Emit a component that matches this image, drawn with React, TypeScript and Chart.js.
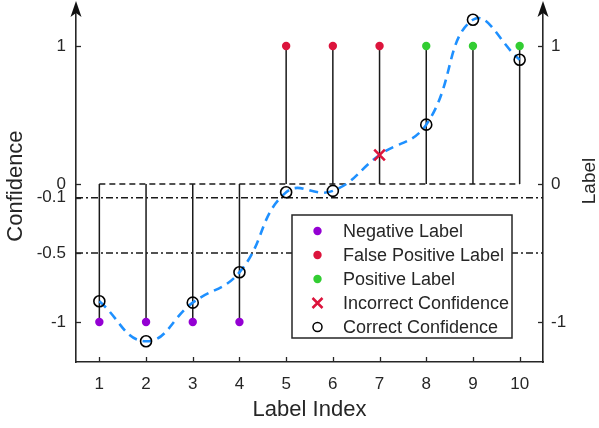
import React, { useEffect, useRef } from "react";
import { Chart, registerables } from "chart.js";

Chart.register(...registerables);

// ---- data ----
const labelIndex = [1, 2, 3, 4, 5, 6, 7, 8, 9, 10];
const trueLabels = [-1, -1, -1, -1, 1, 1, 1, 1, 1, 1];
const labelKinds = ["neg", "neg", "neg", "neg", "fp", "fp", "fp", "pos", "pos", "pos"];
const confidence = [-0.85, -1.14, -0.86, -0.64, -0.06, -0.05, 0.21, 0.43, 1.19, 0.9];
const confidenceCorrect = [true, true, true, true, true, true, false, true, true, true];
const leftTicks = [1, 0, -0.1, -0.5, -1];
const rightTicks = [1, 0, -1];
const thresholds = [-0.1, -0.5];
const xLimits = [0.5, 10.5];
const yLimits = [-1.29, 1.26];
const rightTitle = "Label";
const legendNames = [
  "Negative Label",
  "False Positive Label",
  "Positive Label",
  "Incorrect Confidence",
  "Correct Confidence",
];

const INK = "#262626";
const PURPLE = "#9400d3";
const RED = "#dc143c";
const GREEN = "#32cd32";
const BLUE = "#1e90ff";
const FONT = "'Liberation Sans', Arial, sans-serif";

const kindColor: Record<string, string> = { neg: PURPLE, fp: RED, pos: GREEN };

const noPad = (s: any) => {
  s.paddingTop = 0;
  s.paddingBottom = 0;
  s.paddingLeft = 0;
  s.paddingRight = 0;
};

const innerTicks = {
  id: "innerTicks",
  afterDraw(chart: any) {
    const ctx = chart.ctx;
    const a = chart.chartArea;
    ctx.save();
    ctx.strokeStyle = INK;
    ctx.lineWidth = 1.3;
    const len = 5;
    const xs = chart.scales.x;
    xs.ticks.forEach((t: any) => {
      const px = Math.round(xs.getPixelForValue(t.value)) + 0.5;
      ctx.beginPath();
      ctx.moveTo(px, a.bottom);
      ctx.lineTo(px, a.bottom - len);
      ctx.stroke();
    });
    const yl = chart.scales.y;
    yl.ticks.forEach((t: any) => {
      const py = Math.round(yl.getPixelForValue(t.value)) + 0.5;
      ctx.beginPath();
      ctx.moveTo(a.left, py);
      ctx.lineTo(a.left + len, py);
      ctx.stroke();
    });
    const yr = chart.scales.y2;
    yr.ticks.forEach((t: any) => {
      const py = Math.round(yr.getPixelForValue(t.value)) + 0.5;
      ctx.beginPath();
      ctx.moveTo(a.right, py);
      ctx.lineTo(a.right - len, py);
      ctx.stroke();
    });
    // vertical axis lines extended up to the arrows
    ctx.strokeStyle = INK;
    ctx.lineWidth = 1.6;
    [a.left, a.right].forEach((x: number) => {
      ctx.beginPath();
      ctx.moveTo(x, a.top + 1);
      ctx.lineTo(x, 8);
      ctx.stroke();
    });
    // arrows on top of both vertical axes
    [a.left, a.right].forEach((x: number) => {
      ctx.fillStyle = "#111";
      ctx.beginPath();
      ctx.moveTo(x, 1);
      ctx.lineTo(x + 5.5, 17);
      ctx.lineTo(x, 13);
      ctx.lineTo(x - 5.5, 17);
      ctx.closePath();
      ctx.fill();
    });
    // right axis title, reading bottom-to-top
    ctx.save();
    ctx.translate(590, 181);
    ctx.rotate(-Math.PI / 2);
    ctx.font = "19px " + FONT;
    ctx.fillStyle = INK;
    ctx.textAlign = "center";
    ctx.textBaseline = "middle";
    ctx.fillText(rightTitle, 0, 0);
    ctx.restore();
    ctx.restore();
  },
};

const boxLegend = {
  id: "boxLegend",
  afterDraw(chart: any) {
    const ctx = chart.ctx;
    ctx.save();
    const bx = 292, by = 215, bw = 220, bh = 123;
    ctx.fillStyle = "#ffffff";
    ctx.fillRect(bx, by, bw, bh);
    ctx.strokeStyle = INK;
    ctx.lineWidth = 1.5;
    ctx.strokeRect(bx, by, bw, bh);
    const mx = 317.5;
    const tx = 343;
    ctx.font = "18px " + FONT;
    ctx.textBaseline = "middle";
    ctx.textAlign = "left";
    legendNames.forEach((name, i) => {
      const y = 231 + i * 24;
      if (i < 3) {
        ctx.fillStyle = [PURPLE, RED, GREEN][i];
        ctx.beginPath();
        ctx.arc(mx, y, 4.2, 0, Math.PI * 2);
        ctx.fill();
      } else if (i === 3) {
        ctx.strokeStyle = RED;
        ctx.lineWidth = 2.5;
        ctx.beginPath();
        ctx.moveTo(mx - 5, y - 5);
        ctx.lineTo(mx + 5, y + 5);
        ctx.moveTo(mx + 5, y - 5);
        ctx.lineTo(mx - 5, y + 5);
        ctx.stroke();
      } else {
        ctx.strokeStyle = "#000";
        ctx.lineWidth = 1.5;
        ctx.beginPath();
        ctx.arc(mx, y, 4.5, 0, Math.PI * 2);
        ctx.stroke();
      }
      ctx.fillStyle = INK;
      ctx.fillText(name, tx, y + 1);
    });
    ctx.restore();
  },
};

export default function App() {
  const canvasRef = useRef<HTMLCanvasElement | null>(null);

  useEffect(() => {
    document.body.style.margin = "0";
    const canvas = canvasRef.current;
    if (!canvas) return;

    const stemData: any[] = [];
    labelIndex.forEach((x, i) => {
      stemData.push({ x, y: 0 });
      stemData.push({ x, y: trueLabels[i] });
      stemData.push({ x, y: null });
    });

    const kinds = ["neg", "fp", "pos"];
    const dotSets = kinds.map((k) => ({
      label: k,
      data: labelIndex
        .map((x, i) => ({ x, y: trueLabels[i], k: labelKinds[i] }))
        .filter((p) => p.k === k)
        .map((p) => ({ x: p.x, y: p.y })),
      pointRadius: 4.2,
      pointBackgroundColor: kindColor[k],
      pointBorderWidth: 0,
      showLine: false,
      order: 0,
      clip: false,
    }));

    const chart = new Chart(canvas, {
      type: "scatter",
      data: {
        datasets: [
          ...dotSets,
          {
            label: "incorrect",
            data: labelIndex
              .map((x, i) => ({ x, y: confidence[i], ok: confidenceCorrect[i] }))
              .filter((p) => !p.ok)
              .map((p) => ({ x: p.x, y: p.y })),
            pointStyle: "crossRot",
            pointRadius: 7.5,
            pointBorderColor: RED,
            pointBorderWidth: 2.6,
            showLine: false,
            order: 1,
          },
          {
            label: "correct",
            data: labelIndex
              .map((x, i) => ({ x, y: confidence[i], ok: confidenceCorrect[i] }))
              .filter((p) => p.ok)
              .map((p) => ({ x: p.x, y: p.y })),
            pointStyle: "circle",
            pointRadius: 5.5,
            pointBorderColor: "#000",
            pointBackgroundColor: "rgba(0,0,0,0)",
            pointBorderWidth: 1.6,
            showLine: false,
            order: 2,
            clip: false,
          },
          {
            label: "curve",
            data: labelIndex.map((x, i) => ({ x, y: confidence[i] })),
            showLine: true,
            tension: 0.45,
            borderColor: BLUE,
            borderWidth: 2.6,
            borderDash: [9, 6],
            pointRadius: 0,
            order: 3,
            clip: false,
          },
          ...thresholds.map((t) => ({
            label: "thr" + t,
            data: [
              { x: xLimits[0], y: t },
              { x: xLimits[1], y: t },
            ],
            showLine: true,
            borderColor: "#1a1a1a",
            borderWidth: 1.4,
            borderDash: [7, 3, 2, 3],
            pointRadius: 0,
            order: 4,
          })),
          {
            label: "zero",
            data: [
              { x: labelIndex[0], y: 0 },
              { x: labelIndex[labelIndex.length - 1], y: 0 },
            ],
            showLine: true,
            borderColor: "#1a1a1a",
            borderWidth: 1.4,
            borderDash: [6, 4],
            pointRadius: 0,
            order: 5,
          },
          {
            label: "stems",
            data: stemData,
            showLine: true,
            spanGaps: false,
            borderColor: "#1a1a1a",
            borderWidth: 1.5,
            pointRadius: 0,
            order: 6,
          },
        ] as any,
      },
      options: {
        animation: false,
        responsive: false,
        devicePixelRatio: 1,
        events: [],
        layout: { padding: { top: 4, left: 0, right: 0, bottom: 0 } },
        plugins: {
          legend: { display: false },
          tooltip: { enabled: false },
        },
        scales: {
          x: {
            type: "linear",
            min: xLimits[0],
            max: xLimits[1],
            afterBuildTicks: (s: any) => {
              s.ticks = labelIndex.map((v) => ({ value: v }));
            },
            afterFit: (s: any) => {
              s.height = 66;
              noPad(s);
            },
            ticks: {
              autoSkip: false,
              maxRotation: 0,
              padding: 12,
              color: INK,
              font: { size: 17, family: FONT },
              callback: (v: any) => String(v),
            },
            grid: { display: true, drawOnChartArea: false, drawTicks: false },
            border: { display: true, color: INK, width: 1.6 },
            title: {
              display: true,
              text: "Label Index",
              color: INK,
              font: { size: 22, family: FONT },
              padding: { top: 0, bottom: 5 },
            },
          },
          y: {
            type: "linear",
            position: "left",
            min: yLimits[0],
            max: yLimits[1],
            afterBuildTicks: (s: any) => {
              s.ticks = leftTicks.map((v) => ({ value: v }));
            },
            afterFit: (s: any) => {
              s.width = 76;
              noPad(s);
            },
            ticks: {
              autoSkip: false,
              padding: 10,
              color: INK,
              font: { size: 17, family: FONT },
              callback: (v: any) => String(v),
            },
            grid: { display: true, drawOnChartArea: false, drawTicks: false },
            border: { display: true, color: INK, width: 1.6 },
            title: {
              display: true,
              text: "Confidence",
              color: INK,
              font: { size: 22, family: FONT },
              padding: { top: 3, bottom: 0 },
            },
          },
          y2: {
            type: "linear",
            position: "right",
            min: yLimits[0],
            max: yLimits[1],
            afterBuildTicks: (s: any) => {
              s.ticks = rightTicks.map((v) => ({ value: v }));
            },
            afterFit: (s: any) => {
              s.width = 56;
              noPad(s);
            },
            ticks: {
              autoSkip: false,
              padding: 8,
              color: INK,
              font: { size: 17, family: FONT },
              callback: (v: any) => String(v),
            },
            grid: { display: true, drawOnChartArea: false, drawTicks: false },
            border: { display: true, color: INK, width: 1.6 },
            title: { display: false },
          },
        },
      } as any,
      plugins: [innerTicks, boxLegend],
    });

    return () => chart.destroy();
  }, []);

  return (
    <div style={{ width: 599, height: 428 }}>
      <canvas ref={canvasRef} width={599} height={428} style={{ display: "block", width: 599, height: 428 }} />
    </div>
  );
}
